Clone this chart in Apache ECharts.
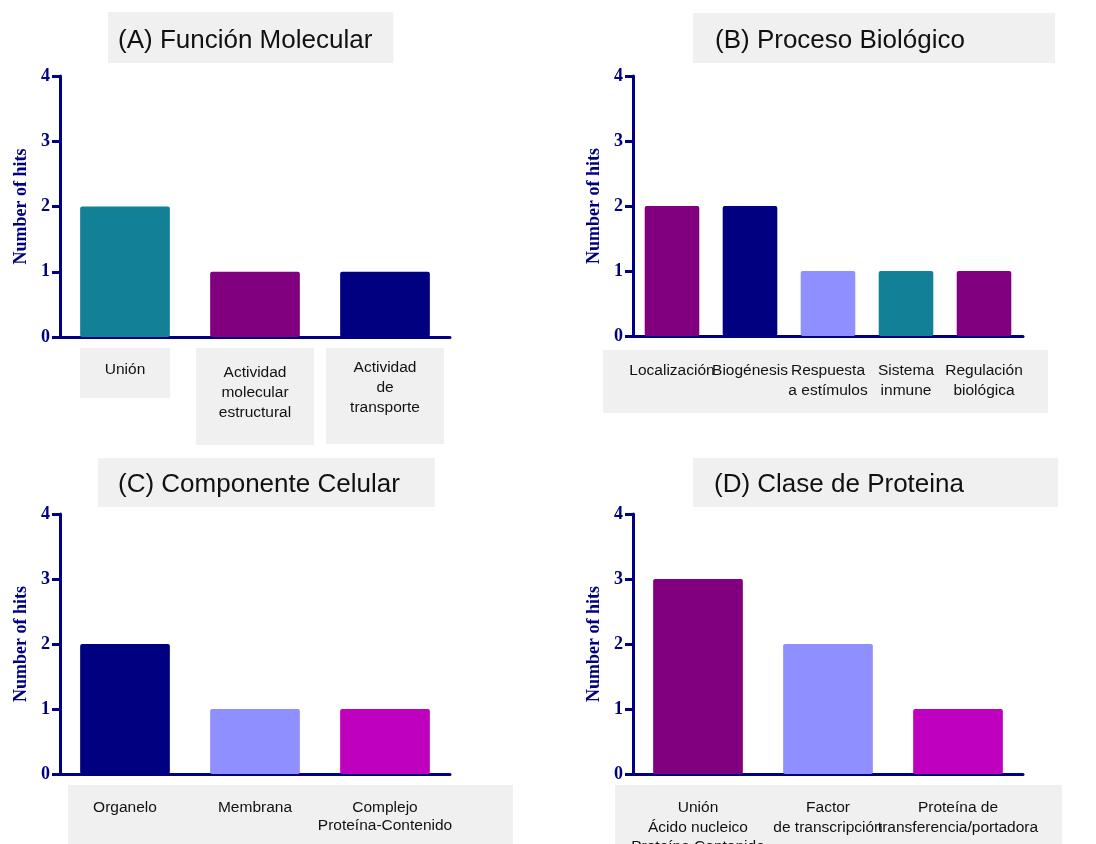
<!DOCTYPE html>
<html>
<head>
<meta charset="utf-8">
<script src="https://cdn.jsdelivr.net/npm/echarts@6/dist/echarts.min.js"></script>
<style>
html,body{margin:0;padding:0;background:#fff;}
#chart{width:1096px;height:844px;}
</style>
</head>
<body>
<div id="chart"></div>
<script>
// ---- data ----
const titles = ['(A) Función Molecular', '(B) Proceso Biológico', '(C) Componente Celular', '(D) Clase de Proteina'];
const yAxisName = 'Number of hits';
const yTickMin = 0, yTickMax = 4, yTickStep = 1;

const catsA = ['Unión', 'Actividad\nmolecular\nestructural', 'Actividad\nde\ntransporte'];
const valsA = [2, 1, 1];
const catsB = ['Localización', 'Biogénesis', 'Respuesta\na estímulos', 'Sistema\ninmune', 'Regulación\nbiológica'];
const valsB = [2, 2, 1, 1, 1];
const catsC = ['Organelo', 'Membrana', 'Complejo\nProteína-Contenido'];
const valsC = [2, 1, 1];
const catsD = ['Unión\nÁcido nucleico\nProteína Contenida', 'Factor\nde transcripción', 'Proteína de\ntransferencia/portadora'];
const valsD = [3, 2, 1];

// ---- styles ----
const colorsA = ['#128096', '#800080', '#000080'];
const colorsB = ['#800080', '#000080', '#8F8FFF', '#128096', '#800080'];
const colorsC = ['#000080', '#8F8FFF', '#BF00BF'];
const colorsD = ['#800080', '#8F8FFF', '#BF00BF'];
// label boxes for panel A: [width, contentHeight, padTop]
const boxA = [[90, 38, 12], [118, 82, 15], [118, 86, 10]];

const NAVY = '#000080';
const BOXGRAY = '#f0f0f0';
const SANS = '"Liberation Sans", Arial, Helvetica, sans-serif';
const SERIF = '"Liberation Serif", "Times New Roman", serif';

const grids = [
  {left: 60, top: 76, width: 390, height: 261},
  {left: 633, top: 76, width: 390, height: 260},
  {left: 60, top: 514, width: 390, height: 260},
  {left: 633, top: 514, width: 390, height: 260}
].map(g => Object.assign(g, {containLabel: false, outerBoundsMode: 'none'}));

function catData(cats, i) {
  if (i !== 0) return cats;
  return cats.map((c, k) => ({
    value: c,
    textStyle: {
      backgroundColor: BOXGRAY,
      width: boxA[k][0],
      height: boxA[k][1],
      padding: [boxA[k][2], 0, 0, 0],
      lineHeight: 20
    }
  }));
}

const allCats = [catsA, catsB, catsC, catsD];
const allVals = [valsA, valsB, valsC, valsD];
const allColors = [colorsA, colorsB, colorsC, colorsD];
const labelMargins = [11, 25, 24, 24];
const labelLH = [20, 20, 18.5, 19.5];
const gapPct = ['31%', '30%', '31%', '31%'];

const xAxes = allCats.map((cats, i) => ({
  type: 'category',
  gridIndex: i,
  data: catData(cats, i),
  axisLine: {lineStyle: {color: NAVY, width: 3}},
  axisTick: {alignWithLabel: true, length: 9, lineStyle: {color: NAVY, width: 3}},
  axisLabel: {
    interval: 0,
    hideOverlap: false,
    margin: labelMargins[i],
    color: '#111',
    fontFamily: SANS,
    fontSize: 15.5,
    lineHeight: labelLH[i],
    align: 'center',
    verticalAlign: 'top'
  }
}));

const yAxes = allCats.map((c, i) => ({
  type: 'value',
  gridIndex: i,
  min: yTickMin,
  max: yTickMax,
  interval: yTickStep,
  name: yAxisName,
  nameLocation: 'middle',
  nameGap: 30,
  nameMoveOverlap: false,
  nameTextStyle: {color: NAVY, fontFamily: SERIF, fontWeight: 'bold', fontSize: 18},
  axisLine: {show: true, lineStyle: {color: NAVY, width: 3}},
  axisTick: {show: true, length: 8, lineStyle: {color: NAVY, width: 3}},
  axisLabel: {color: NAVY, fontFamily: SERIF, fontWeight: 'bold', fontSize: 18, margin: 10},
  splitLine: {show: false}
}));

const series = allVals.map((vals, i) => ({
  type: 'bar',
  xAxisIndex: i,
  yAxisIndex: i,
  barCategoryGap: gapPct[i],
  data: vals.map((v, k) => ({value: v, itemStyle: {color: allColors[i][k], borderRadius: 2}})),
  z: 1
}));

const titleBoxes = [
  {left: 108, top: 12, padding: [14, 21, 7, 10]},
  {left: 693, top: 13, padding: [13, 90, 7, 22]},
  {left: 98, top: 458, padding: [12, 35, 7, 20]},
  {left: 693, top: 458, padding: [12, 94, 7, 21]}
];
const title = titles.map((t, i) => ({
  text: t,
  left: titleBoxes[i].left,
  top: titleBoxes[i].top,
  padding: titleBoxes[i].padding,
  backgroundColor: BOXGRAY,
  textStyle: {fontFamily: SANS, fontWeight: 'normal', fontSize: 26, lineHeight: 30, color: '#111'}
}));

const graphic = [
  {type: 'rect', left: 603, top: 350, shape: {width: 445, height: 63}, style: {fill: BOXGRAY}, z: -10, silent: true},
  {type: 'rect', left: 68, top: 785, shape: {width: 445, height: 59}, style: {fill: BOXGRAY}, z: -10, silent: true},
  {type: 'rect', left: 615, top: 785, shape: {width: 447, height: 59}, style: {fill: BOXGRAY}, z: -10, silent: true}
];

const chart = echarts.init(document.getElementById('chart'), null, {renderer: 'canvas'});
chart.setOption({
  animation: false,
  backgroundColor: '#fff',
  title: title,
  grid: grids,
  xAxis: xAxes,
  yAxis: yAxes,
  series: series,
  graphic: graphic
});
</script>
</body>
</html>
